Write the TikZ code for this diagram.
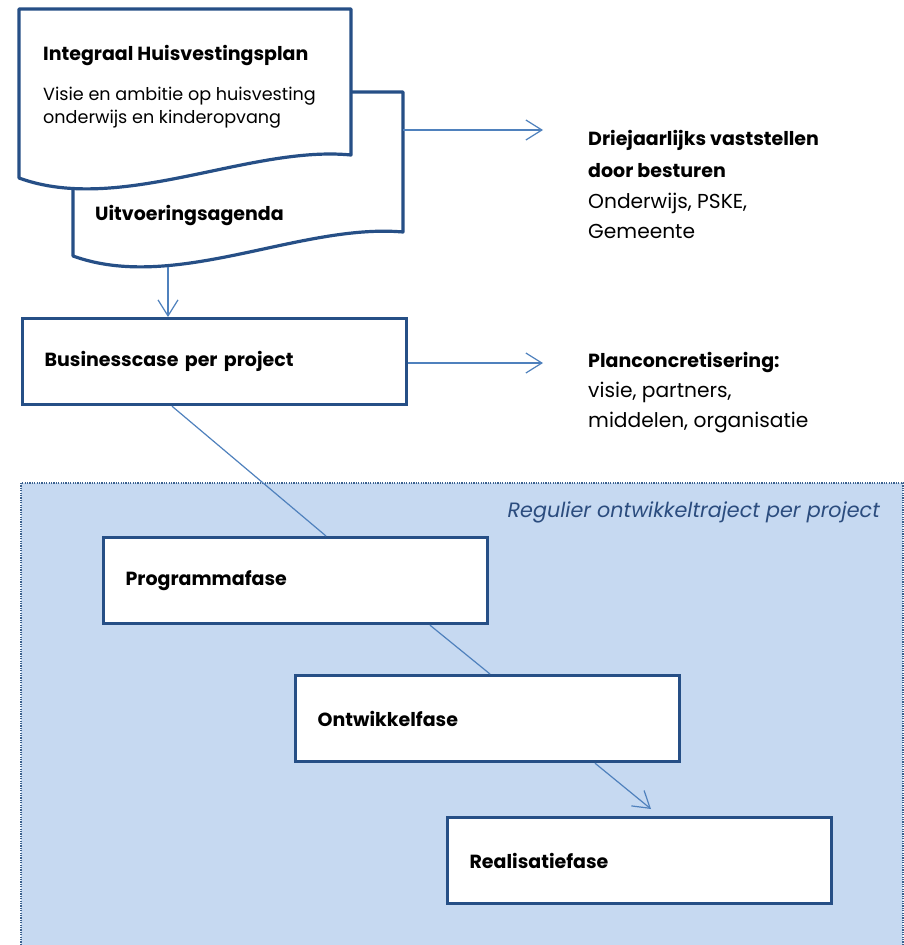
\documentclass[tikz,border=0pt]{standalone}
\usepackage{fontspec}
\setmainfont{Poppins}
\usetikzlibrary{arrows.meta}
\definecolor{kaderblauw}{HTML}{264F86}
\definecolor{lijnblauw}{HTML}{4F81BD}
\definecolor{vlakblauw}{HTML}{C6D9F1}
\definecolor{tekstblauw}{HTML}{2B4C7E}
\tikzset{
  fase/.style={draw=kaderblauw,line width=3.2pt,fill=white,anchor=north west,
    minimum height=86pt,text width=340pt,inner xsep=22pt,align=left,
    font=\fontsize{19}{22}\selectfont\bfseries},
  doc/.style={draw=kaderblauw,line width=3.2pt,fill=white,line join=round},
  verbind/.style={draw=lijnblauw,line width=1.2pt},
  pijl/.style={verbind,-{Straight Barb[length=16pt,width=20pt]}},
  regel/.style={anchor=base west,inner sep=0pt,font=\fontsize{17.6}{20}\selectfont},
  kop/.style={regel,font=\fontsize{19}{22}\selectfont\bfseries},
  rechts/.style={regel,font=\fontsize{20.2}{22}\selectfont},
}
\begin{document}
\begin{tikzpicture}[x=1pt,y=-1pt]
  \useasboundingbox (0,0) rectangle (904,945);
  \fill [white] (0,0) rectangle (904,945);

  % regulier ontwikkeltraject
  \fill [vlakblauw] (21,483) rectangle (903,945);
  \draw [lijnblauw!75!black,line width=1.3pt,dash pattern=on 1.2pt off 1.2pt]
    (21,945) -- (21,483) -- (903,483) -- (903,945);
  \node [anchor=base east,inner sep=0pt,text=tekstblauw,
    font=\fontsize{20.7}{22}\selectfont\itshape] (regulier) at (880,517)
    {Regulier ontwikkeltraject per project};

  % huisvestingsplan en uitvoeringsagenda
  \draw [doc] (73,92) -- (403,92) -- (403,232)
    .. controls (300,223) and (175,293) .. (73,256) -- cycle;
  \draw [doc] (19,9) -- (351,9) -- (351,155)
    .. controls (250,145) and (120,215) .. (19,178) -- cycle;
  \node [kop] (ihp) at (43,60) {Integraal Huisvestingsplan};
  \node [regel] (visie1) at (43,100) {Visie en ambitie op huisvesting};
  \node [regel] (visie2) at (43,123) {onderwijs en kinderopvang};
  \node [kop] (uitv) at (95,220) {Uitvoeringsagenda};
  \coordinate (ihp-rechts) at (403,130);
  \coordinate (uitv-onder) at (168,267);

  % besluit
  \node [kop] (drie1) at (588,145) {Driejaarlijks vaststellen};
  \node [kop] (drie2) at (588,177) {door besturen};
  \node [rechts] (drie3) at (588,208) {Onderwijs, PSKE,};
  \node [rechts] (drie4) at (588,238) {Gemeente};
  \coordinate (drie-pijl) at (543,130);

  % fasen
  \node [fase] (bc) at (21,317) {Businesscase per project};
  \node [fase] (prog) at (102,536) {Programmafase};
  \node [fase] (ontw) at (294,674) {Ontwikkelfase};
  \node [fase] (real) at (446,816) {Realisatiefase};

  \node [kop] (plan1) at (588,367) {Planconcretisering:};
  \node [rechts] (plan2) at (588,397) {visie, partners,};
  \node [rechts] (plan3) at (588,427) {middelen, organisatie};
  \coordinate (plan-pijl) at (543,363);

  % verbindingen
  \draw [pijl] (ihp-rechts) -- (drie-pijl);
  \draw [pijl] (uitv-onder) -- ([xshift=147pt]bc.north west);
  \draw [pijl] (bc.east |- plan-pijl) -- (plan-pijl);
  \draw [verbind] ([xshift=151pt]bc.south west) -- ([xshift=224pt]prog.north west);
  \draw [verbind] ([xshift=328pt]prog.south west) -- ([xshift=196pt]ontw.north west);
  \draw [pijl] ([xshift=301pt]ontw.south west) -- ([xshift=205pt,yshift=7pt]real.north west);
\end{tikzpicture}
\end{document}
